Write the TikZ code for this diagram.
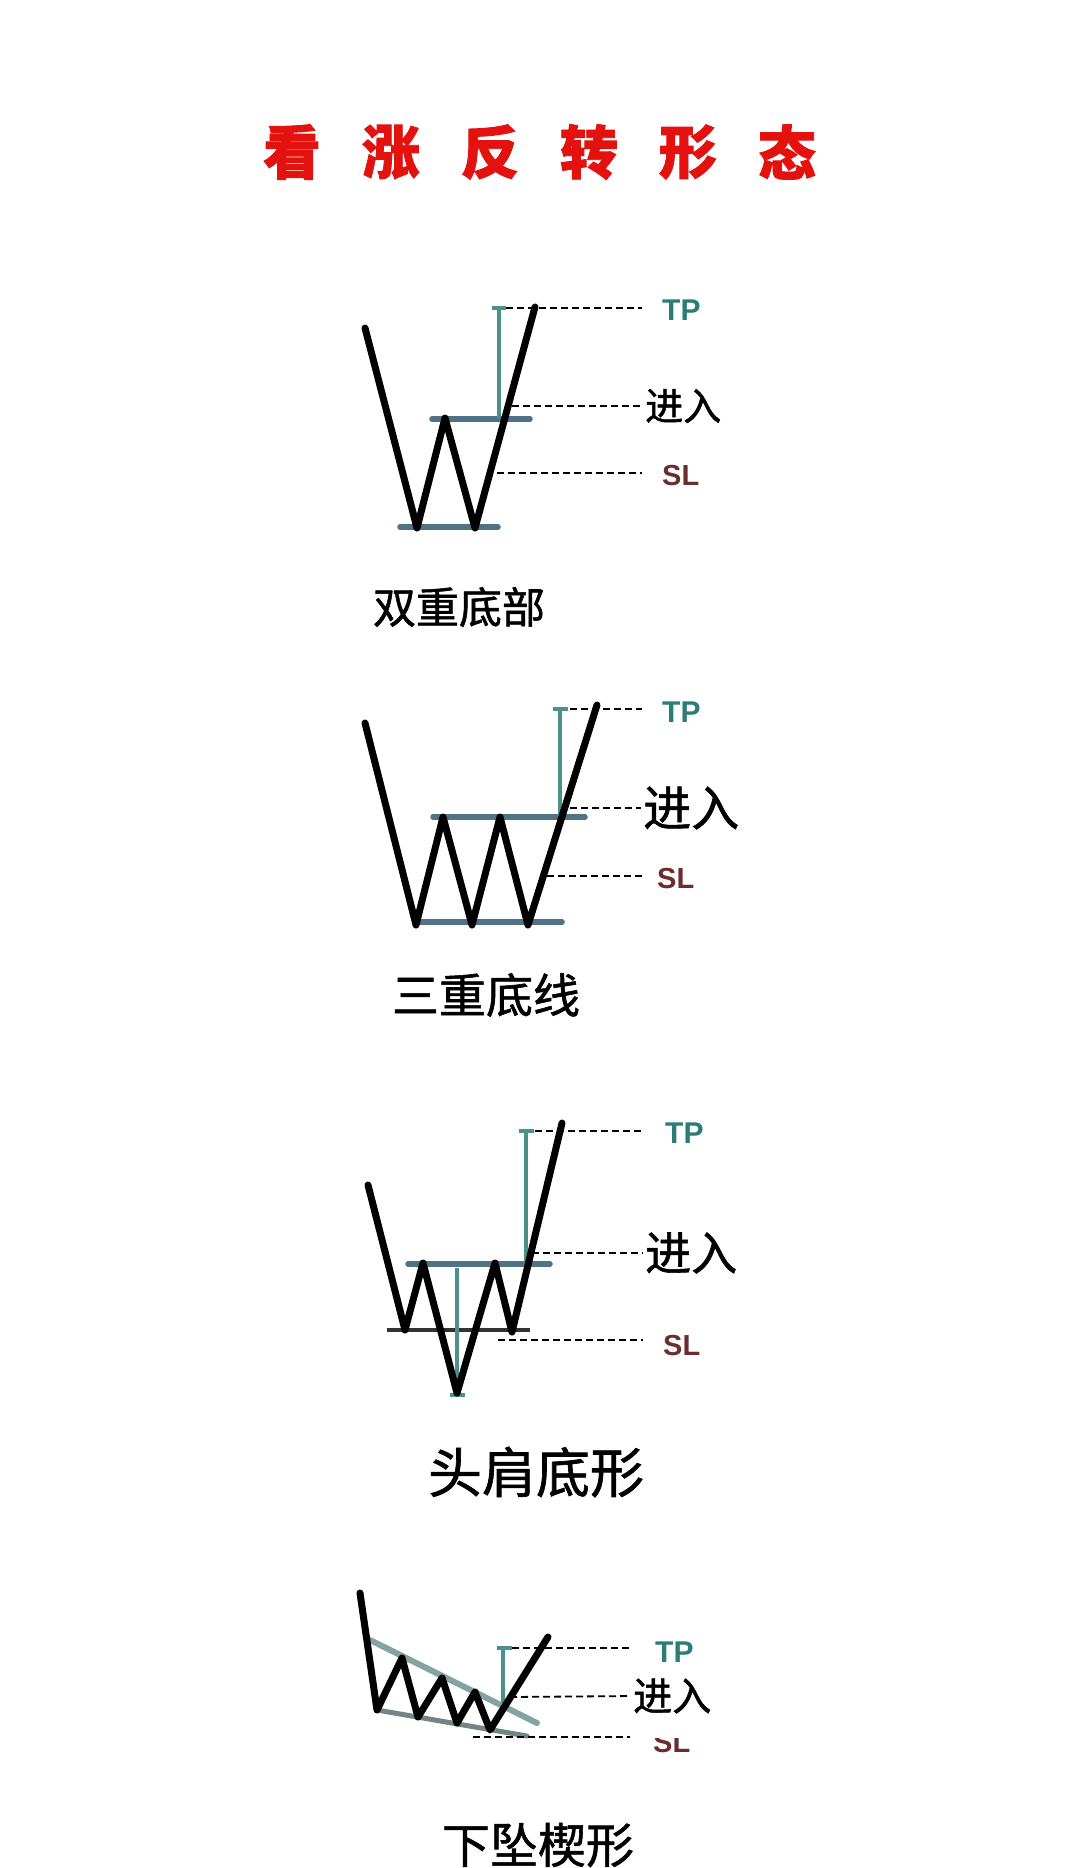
\documentclass[tikz,border=0pt]{standalone}
\usepackage{fontspec}
\setsansfont{Liberation Sans}
\newfontfamily\cjk{Noto Sans CJK SC}[FakeBold=1.2]
\newfontfamily\cjkhead{Noto Sans CJK SC}[FakeBold=1.5]
\definecolor{tpteal}{HTML}{2B7D76}
\definecolor{slbrown}{HTML}{6B2E2E}
\definecolor{neckblue}{HTML}{4F7385}
\definecolor{wedgegray}{HTML}{6F9492}
\definecolor{titlered}{HTML}{E3120F}

\begin{document}
\begin{tikzpicture}[x=1pt, y=-1pt,
    price/.style={line width=7pt, line cap=round, line join=round},
    level/.style={line width=5.5pt, neckblue, line cap=round},
    target/.style={line width=4.5pt, tpteal!85},
    guide/.style={line width=1.8pt, dash pattern=on 7pt off 4pt},
    tplabel/.style={anchor=west, inner sep=0pt, text=tpteal, font=\sffamily\bfseries\fontsize{30}{30}\selectfont},
    sllabel/.style={anchor=west, inner sep=0pt, text=slbrown, font=\sffamily\bfseries\fontsize{29}{29}\selectfont},
    entrylabel/.style={anchor=west, inner sep=0pt, font=\cjk\fontsize{#1}{#1}\selectfont},
    namelabel/.style={inner sep=0pt, font=\cjk\fontsize{#1}{#1}\selectfont},
    titlechar/.style={inner sep=0pt, text=titlered, font=\cjkhead\bfseries\fontsize{58}{58}\selectfont}
  ]
  \useasboundingbox[fill=white] (0,0) rectangle (1080,1868);

  % title
  \foreach \ch [count=\i from 0] in {看,涨,反,转,形,态}
    \node[titlechar] (title\i) at (292+99*\i,152) {\ch};

  % double bottom
  \coordinate (a0) at (365,328);
  \coordinate (a1) at (417,528);
  \coordinate (a2) at (445,418);
  \coordinate (a3) at (475,528);
  \coordinate (a4) at (535,307);
  \draw[level] (432,419) -- (530,419);
  \draw[level] (400,527) -- (498,527);
  \draw[target] (499,308) -- (499,418);
  \draw[target] (492,308) -- (506,308);
  \draw[price] (a0) -- (a1) -- (a2) -- (a3) -- (a4);
  \node[tplabel] (tp1) at (662,310) {TP};
  \node[entrylabel=38] (in1) at (645,406) {进入};
  \node[sllabel] (sl1) at (662,476) {SL};
  \coordinate (tpa) at (506,308);
  \coordinate (ina) at (512,406);
  \coordinate (sla) at (497,473);
  \draw[guide, shorten >=20pt] (tpa) -- (tpa -| tp1.west);
  \draw[guide, shorten >=3pt] (ina) -- (in1.west);
  \draw[guide, shorten >=20pt] (sla) -- (sla -| sl1.west);
  \node[namelabel=43] (name1) at (459,607) {双重底部};

  % triple bottom
  \coordinate (b0) at (365,723);
  \coordinate (b1) at (416,925);
  \coordinate (b2) at (443,817);
  \coordinate (b3) at (472,925);
  \coordinate (b4) at (500,817);
  \coordinate (b5) at (528,925);
  \coordinate (b6) at (597,705);
  \draw[level] (433,817) -- (585,817);
  \draw[level] (420,922) -- (562,922);
  \draw[target] (560,709) -- (560,817);
  \draw[target] (553,709) -- (568,709);
  \draw[price] (b0) -- (b1) -- (b2) -- (b3) -- (b4) -- (b5) -- (b6);
  \node[tplabel] (tp2) at (662,712) {TP};
  \node[entrylabel=48] (in2) at (643,808) {进入};
  \node[sllabel] (sl2) at (657,879) {SL};
  \coordinate (tpb) at (570,709);
  \coordinate (inb) at (570,808);
  \coordinate (slb) at (547,876);
  \draw[guide, shorten >=20pt] (tpb) -- (tpb -| tp2.west);
  \draw[guide, shorten >=2pt] (inb) -- (in2.west);
  \draw[guide, shorten >=15pt] (slb) -- (slb -| sl2.west);
  \node[namelabel=47] (name2) at (486,995) {三重底线};

  % head and shoulders bottom
  \coordinate (c0) at (368,1185);
  \coordinate (c1) at (405,1330);
  \coordinate (c2) at (423,1263);
  \coordinate (c3) at (457,1393);
  \coordinate (c4) at (495,1263);
  \coordinate (c5) at (512,1332);
  \coordinate (c6) at (562,1123);
  \draw[level] (408,1264) -- (550,1264);
  \draw[line width=3.5pt, black!80] (387,1330) -- (530,1330);
  \draw[target] (457,1268) -- (457,1395);
  \draw[target] (450,1395) -- (465,1395);
  \draw[target] (526,1131) -- (526,1264);
  \draw[target] (519,1131) -- (534,1131);
  \draw[price] (c0) -- (c1) -- (c2) -- (c3) -- (c4) -- (c5) -- (c6);
  \node[tplabel] (tp3) at (665,1133) {TP};
  \node[entrylabel=46] (in3) at (645,1253) {进入};
  \node[sllabel] (sl3) at (663,1345) {SL};
  \coordinate (tpc) at (535,1131);
  \coordinate (inc) at (532,1253);
  \coordinate (slc) at (498,1340);
  \draw[guide, shorten >=22pt] (tpc) -- (tpc -| tp3.west);
  \draw[guide, shorten >=2pt] (inc) -- (in3.west);
  \draw[guide, shorten >=20pt] (slc) -- (slc -| sl3.west);
  \node[namelabel=54] (name3) at (536,1472) {头肩底形};

  % falling wedge
  \coordinate (d0) at (360,1593);
  \coordinate (d1) at (377,1710);
  \coordinate (d2) at (402,1658);
  \coordinate (d3) at (418,1717);
  \coordinate (d4) at (442,1678);
  \coordinate (d5) at (457,1723);
  \coordinate (d6) at (475,1692);
  \coordinate (d7) at (490,1730);
  \coordinate (d8) at (548,1637);
  \draw[line width=6pt, wedgegray, opacity=.85, line cap=round] (370,1640) -- (537,1723);
  \draw[line width=5pt, wedgegray!70!black, opacity=.8, line cap=round] (377,1710) -- (527,1736);
  \draw[target] (503,1648) -- (503,1703);
  \draw[target] (497,1648) -- (512,1648);
  \draw[price] (d0) -- (d1) -- (d2) -- (d3) -- (d4) -- (d5) -- (d6) -- (d7) -- (d8);
  \node[tplabel] (tp4) at (655,1652) {TP};
  \node[entrylabel=39] (in4) at (633,1696) {进入};
  \begin{scope}
    \clip (640,1738) rectangle (720,1770);
    \node[sllabel] (sl4) at (653,1742) {SL};
  \end{scope}
  \coordinate (tpd) at (512,1648);
  \coordinate (ind) at (510,1697);
  \coordinate (sld) at (473,1737);
  \draw[guide, shorten >=25pt] (tpd) -- (tpd -| tp4.west);
  \draw[guide, shorten >=3pt] (ind) -- (in4.west);
  \draw[guide, shorten >=23pt] (sld) -- (sld -| sl4.west);
  \node[namelabel=48] (name4) at (538,1845) {下坠楔形};
\end{tikzpicture}
\end{document}
